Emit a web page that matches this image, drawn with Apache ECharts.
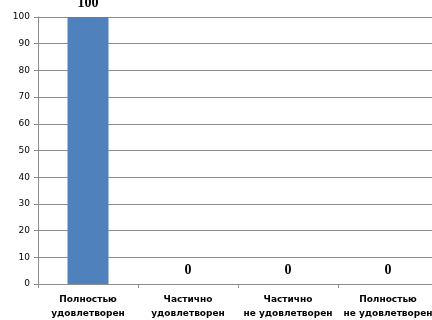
<!DOCTYPE html>
<html><head><meta charset="utf-8">
<script src="https://cdn.jsdelivr.net/npm/echarts@6/dist/echarts.min.js"></script>
<style>html,body{margin:0;padding:0;background:#fff}#c{width:432px;height:320px}</style>
</head><body><div id="c"></div>
<script>
var categories = ['Полностью\nудовлетворен', 'Частично\nудовлетворен', 'Частично\nне удовлетворен', 'Полностью\nне удовлетворен'];
var values = [100, 0, 0, 0];
var yTicks = {min: 0, max: 100, interval: 10};

var chart = echarts.init(document.getElementById('c'));
chart.setOption({
  animation: false,
  grid: {left: 38, top: 17, width: 400, height: 267, containLabel: false, outerBoundsMode: 'none'},
  xAxis: {
    type: 'category', data: categories,
    axisLine: {lineStyle: {color: '#8c8c8c', width: 1}},
    axisTick: {show: true, length: 4, lineStyle: {color: '#8c8c8c'}},
    axisLabel: {interval: 0, fontFamily: 'DejaVu Sans', fontSize: 9, fontWeight: 'bold', color: '#000', margin: 9, lineHeight: 14}
  },
  yAxis: {
    type: 'value', min: yTicks.min, max: yTicks.max, interval: yTicks.interval,
    axisLine: {show: true, lineStyle: {color: '#8c8c8c'}},
    axisTick: {show: true, length: 4, lineStyle: {color: '#8c8c8c'}},
    splitLine: {lineStyle: {color: '#8c8c8c', width: 1}},
    axisLabel: {fontFamily: 'DejaVu Sans', fontSize: 9, color: '#000', margin: 8}
  },
  series: [{
    type: 'bar', data: values, barWidth: '41%',
    itemStyle: {color: '#4f81bd'},
    label: {show: true, position: 'top', distance: 7, fontFamily: 'Liberation Serif', fontWeight: 'bold', fontSize: 14, color: '#000'}
  }]
});
</script></body></html>
